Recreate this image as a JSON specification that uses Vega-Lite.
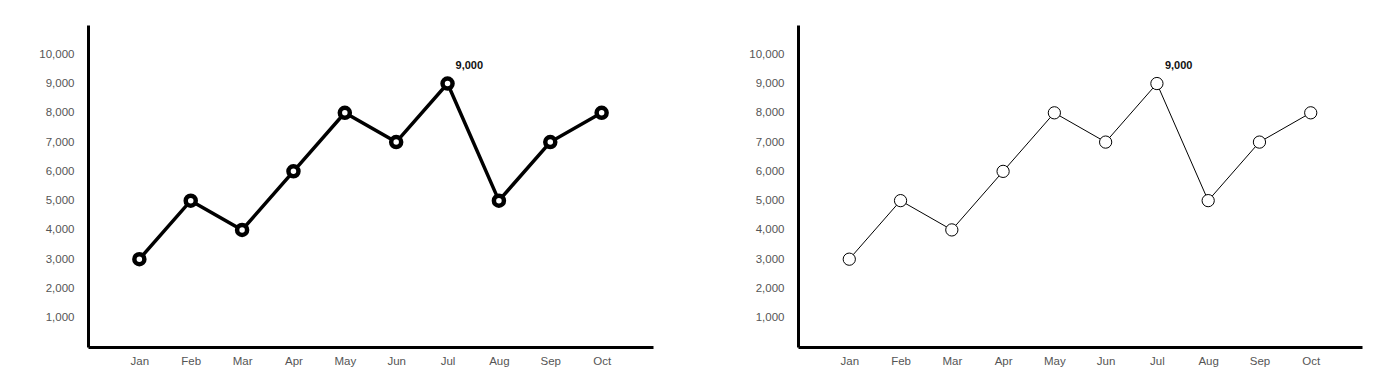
{
  "$schema": "https://vega.github.io/schema/vega-lite/v6.json",
  "padding": {"left": 28, "top": 25, "right": 5, "bottom": 5},
  "background": "white",
  "config": {
    "view": {"stroke": null},
    "font": "Liberation Sans",
    "axis": {
      "domainColor": "black",
      "domainWidth": 3,
      "ticks": false,
      "grid": false,
      "labelColor": "#555555",
      "labelFont": "Liberation Sans",
      "labelFontSize": 11.5,
      "title": null
    },
    "axisY": {"minExtent": 60, "maxExtent": 60, "labelPadding": 14},
    "axisX": {"labelPadding": 8, "labelAngle": 0}
  },
  "datasets": {
    "sales": [
      {"month": "Jan", "value": 3000},
      {"month": "Feb", "value": 5000},
      {"month": "Mar", "value": 4000},
      {"month": "Apr", "value": 6000},
      {"month": "May", "value": 8000},
      {"month": "Jun", "value": 7000},
      {"month": "Jul", "value": 9000},
      {"month": "Aug", "value": 5000},
      {"month": "Sep", "value": 7000},
      {"month": "Oct", "value": 8000}
    ]
  },
  "hconcat": [
    {
      "width": 565,
      "height": 322,
      "data": {"name": "sales"},
      "encoding": {
        "x": {"field": "month", "type": "ordinal", "sort": null, "scale": {"type": "point", "padding": 1}},
        "y": {"field": "value", "type": "quantitative", "scale": {"domain": [0, 11000], "nice": false}, "axis": {"values": [1000,2000,3000,4000,5000,6000,7000,8000,9000,10000], "labelExpr": "format(datum.value, ',')"}}
      },
      "layer": [
        {"mark": {"type": "line", "color": "black", "strokeWidth": 3.5}},
        {"mark": {"type": "point", "shape": "circle", "filled": true, "fill": "white", "stroke": "black", "strokeWidth": 4.5, "size": 100, "opacity": 1}},
        {"transform": [{"filter": "datum.month === 'Jul'"}], "mark": {"type": "text", "align": "left", "baseline": "middle", "dx": 8, "dy": -18, "fontSize": 11, "fontWeight": "bold", "color": "#111111"}, "encoding": {"text": {"field": "value", "type": "quantitative", "format": ","}}}
      ]
    },
    {
      "width": 564,
      "height": 322,
      "data": {"name": "sales"},
      "encoding": {
        "x": {"field": "month", "type": "ordinal", "sort": null, "scale": {"type": "point", "padding": 1}},
        "y": {"field": "value", "type": "quantitative", "scale": {"domain": [0, 11000], "nice": false}, "axis": {"values": [1000,2000,3000,4000,5000,6000,7000,8000,9000,10000], "labelExpr": "format(datum.value, ',')"}}
      },
      "layer": [
        {"mark": {"type": "line", "color": "black", "strokeWidth": 1}},
        {"mark": {"type": "point", "shape": "circle", "filled": true, "fill": "white", "stroke": "black", "strokeWidth": 1, "size": 150, "opacity": 1}},
        {"transform": [{"filter": "datum.month === 'Jul'"}], "mark": {"type": "text", "align": "left", "baseline": "middle", "dx": 8, "dy": -18, "fontSize": 11, "fontWeight": "bold", "color": "#111111"}, "encoding": {"text": {"field": "value", "type": "quantitative", "format": ","}}}
      ]
    }
  ],
  "spacing": 85
}
